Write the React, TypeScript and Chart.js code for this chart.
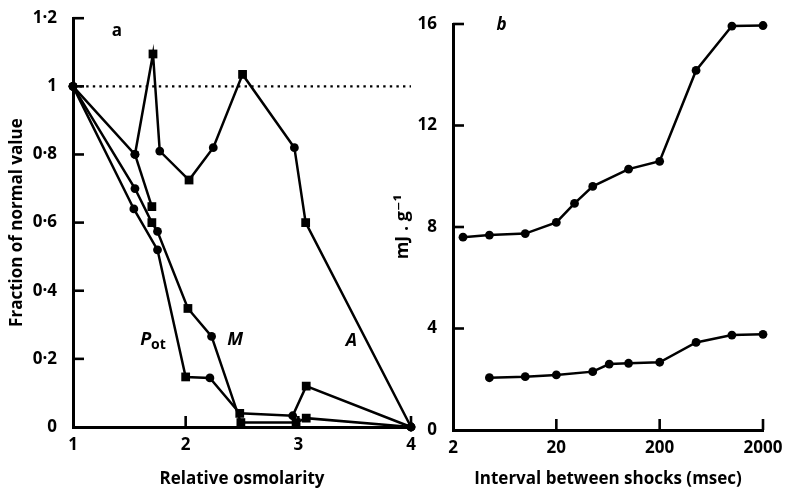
import React, { useEffect, useRef } from 'react';
import { Chart, registerables } from 'chart.js';
Chart.register(...registerables);

// ---------- Panel a : fraction of normal value vs relative osmolarity ----------
const aXTicks = [1, 2, 3, 4];
const aYTicks = [0, 0.2, 0.4, 0.6, 0.8, 1, 1.2];

const refX = [1, 4];
const refY = [1, 1];

const seriesAX = [1, 1.55, 1.71, 1.77, 2.03, 2.245, 2.505, 2.965, 3.065, 4];
const seriesAY = [1, 0.8, 1.095, 0.81, 0.725, 0.82, 1.035, 0.82, 0.6, 0];
const seriesAM = ['c', 'c', 's', 'c', 's', 'c', 's', 'c', 's', 'c'];

const seriesPotX = [1, 1.54, 1.75, 2.0, 2.215, 2.48, 2.95, 3.07, 4];
const seriesPotY = [1, 0.64, 0.52, 0.147, 0.144, 0.04, 0.033, 0.12, 0];
const seriesPotM = ['c', 'c', 'c', 's', 'c', 's', 'c', 's', 'c'];

const seriesMX = [1, 1.55, 1.7, 1.75, 2.02, 2.23, 2.49, 2.98, 3.07, 4];
const seriesMY = [1, 0.7, 0.6, 0.574, 0.348, 0.266, 0.013, 0.013, 0.026, 0];
const seriesMM = ['c', 'c', 's', 'c', 's', 'c', 's', 's', 's', 'c'];

const seriesExtraX = [1.55, 1.7];
const seriesExtraY = [0.8, 0.647];
const seriesExtraM = ['c', 's'];

// ---------- Panel b : mJ.g-1 vs interval between shocks ----------
const bXTicks = [2, 20, 200, 2000];
const bYTicks = [0, 4, 8, 12, 16];

const upperX = [2.5, 4.5, 10, 20, 30, 45, 100, 200, 450, 1000, 2000];
const upperY = [7.6, 7.68, 7.74, 8.18, 8.93, 9.6, 10.28, 10.59, 14.17, 15.92, 15.94];

const lowerX = [4.5, 10, 20, 45, 65, 100, 200, 450, 1000, 2000];
const lowerY = [2.06, 2.1, 2.17, 2.3, 2.6, 2.63, 2.67, 3.45, 3.74, 3.77];

const FONT = "'Open Sans', 'DejaVu Sans', sans-serif";

const pts = (xs: number[], ys: number[]) => xs.map((x, i) => ({ x, y: ys[i] }));

const markerDataset = (xs: number[], ys: number[], ms: string[]) => ({
  data: pts(xs, ys),
  showLine: true,
  borderColor: '#000',
  borderWidth: 2.5,
  pointStyle: ms.map((m) => (m === 's' ? 'rect' : 'circle')),
  pointRadius: ms.map((m) => (m === 's' ? 6.2 : 4.4)),
  pointBackgroundColor: '#000',
  pointBorderColor: '#000',
  pointBorderWidth: 0,
  clip: false,
});

const inwardTicks = {
  id: 'inwardTicks',
  afterDraw(chart: any, _args: any, opts: any) {
    const { ctx, scales } = chart;
    const x = scales.x;
    const y = scales.y;
    ctx.save();
    ctx.strokeStyle = '#000';
    ctx.lineWidth = 2.6;
    (opts.xTicks || []).forEach((v: number) => {
      const px = x.getPixelForValue(v);
      ctx.beginPath();
      ctx.moveTo(px, y.bottom);
      ctx.lineTo(px, y.bottom - opts.len);
      ctx.stroke();
    });
    (opts.yTicks || []).forEach((v: number) => {
      const py = y.getPixelForValue(v);
      ctx.beginPath();
      ctx.moveTo(x.left, py);
      ctx.lineTo(x.left + opts.len, py);
      ctx.stroke();
    });
    ctx.restore();
  },
};

const labels = {
  id: 'labels',
  afterDraw(chart: any, _args: any, opts: any) {
    const { ctx, scales } = chart;
    ctx.save();
    ctx.fillStyle = '#000';
    ctx.textAlign = 'center';
    ctx.textBaseline = 'middle';
    (opts.items || []).forEach((it: any) => {
      const px = scales.x.getPixelForValue(it.x);
      const py = scales.y.getPixelForValue(it.y);
      ctx.font = `${it.italic ? 'italic ' : ''}bold ${it.size}px ${FONT}`;
      if (it.sub) {
        const w = ctx.measureText(it.text).width;
        ctx.font = `bold ${it.size - 4}px ${FONT}`;
        const ws = ctx.measureText(it.sub).width;
        const start = px - (w + ws) / 2;
        ctx.textAlign = 'left';
        ctx.font = `${it.italic ? 'italic ' : ''}bold ${it.size}px ${FONT}`;
        ctx.fillText(it.text, start, py);
        ctx.font = `bold ${it.size - 4}px ${FONT}`;
        ctx.fillText(it.sub, start + w, py + 5);
        ctx.textAlign = 'center';
      } else {
        ctx.fillText(it.text, px, py);
      }
    });
    ctx.restore();
  },
};

const fmtA = (v: number) => (Math.round(v * 10) / 10).toString().replace('.', '·');

const tickFont = { family: FONT, size: 17, weight: 'bold' };
const titleFont = { family: FONT, size: 17, weight: 'bold' };

function PanelA() {
  const ref = useRef<HTMLCanvasElement>(null);
  useEffect(() => {
    const chart = new Chart(ref.current as HTMLCanvasElement, {
      type: 'scatter',
      data: {
        datasets: [
          {
            data: pts(refX, refY),
            showLine: true,
            borderColor: '#000',
            borderWidth: 2.4,
            borderDash: [2.4, 4.2],
            pointRadius: 0,
            clip: false,
          } as any,
          markerDataset(seriesAX, seriesAY, seriesAM),
          markerDataset(seriesPotX, seriesPotY, seriesPotM),
          markerDataset(seriesMX, seriesMY, seriesMM),
          markerDataset(seriesExtraX, seriesExtraY, seriesExtraM),
        ],
      },
      options: {
        animation: false,
        responsive: false,
        devicePixelRatio: 1,
        layout: { padding: { left: 0, top: 15, right: 19, bottom: 0 } },
        plugins: {
          legend: { display: false },
          tooltip: { enabled: false },
          inwardTicks: { xTicks: [2, 3, 4], yTicks: [0.2, 0.4, 0.6, 0.8, 1, 1.2], len: 11 },
          labels: {
            items: [
              { text: 'a', x: 1.39, y: 1.163, size: 17 },
              { text: 'P', sub: 'ot', x: 1.71, y: 0.255, size: 18, italic: true },
              { text: 'M', x: 2.44, y: 0.255, size: 18, italic: true },
              { text: 'A', x: 3.47, y: 0.252, size: 18, italic: true },
            ],
          },
        } as any,
        scales: {
          x: {
            type: 'linear',
            min: 1,
            max: 4,
            afterBuildTicks: (s: any) => {
              s.ticks = aXTicks.map((v) => ({ value: v }));
            },
            afterFit: (s: any) => {
              s.height = 67;
            },
            grid: { display: false },
            border: { display: true, color: '#000', width: 3 },
            ticks: {
              color: '#000',
              padding: 0,
              font: tickFont,
              callback: (v: any) => String(v),
            },
            title: {
              display: true,
              text: 'Relative osmolarity',
              color: '#000',
              font: titleFont,
              padding: { top: 0, bottom: 5 },
            },
          },
          y: {
            type: 'linear',
            min: 0,
            max: 1.2,
            afterBuildTicks: (s: any) => {
              s.ticks = aYTicks.map((v) => ({ value: v }));
            },
            afterFit: (s: any) => {
              s.width = 73;
            },
            grid: { display: false },
            border: { display: true, color: '#000', width: 3 },
            ticks: {
              color: '#000',
              padding: 8,
              font: tickFont,
              callback: (v: any) => fmtA(Number(v)),
            },
            title: {
              display: true,
              text: 'Fraction of normal value',
              color: '#000',
              font: titleFont,
              padding: { top: 7, bottom: 0 },
            },
          },
        },
      } as any,
      plugins: [inwardTicks, labels] as any,
    });
    return () => chart.destroy();
  }, []);
  return (
    <canvas
      ref={ref}
      width={430}
      height={494}
      style={{ position: 'absolute', left: 0, top: 0, width: 430, height: 494 }}
    />
  );
}

function PanelB() {
  const ref = useRef<HTMLCanvasElement>(null);
  useEffect(() => {
    const chart = new Chart(ref.current as HTMLCanvasElement, {
      type: 'scatter',
      data: {
        datasets: [
          markerDataset(upperX, upperY, upperX.map(() => 'c')),
          markerDataset(lowerX, lowerY, lowerX.map(() => 'c')),
        ],
      },
      options: {
        animation: false,
        responsive: false,
        devicePixelRatio: 1,
        layout: { padding: { left: 0, top: 24, right: 24, bottom: 0 } },
        plugins: {
          legend: { display: false },
          tooltip: { enabled: false },
          inwardTicks: { xTicks: [20, 200, 2000], yTicks: [4, 8, 12, 16], len: 11 },
          labels: {
            items: [{ text: 'b', x: 5.9, y: 15.96, size: 17, italic: true }],
          },
        } as any,
        scales: {
          x: {
            type: 'logarithmic',
            min: 2,
            max: 2000,
            afterBuildTicks: (s: any) => {
              s.ticks = bXTicks.map((v) => ({ value: v }));
            },
            afterFit: (s: any) => {
              s.height = 64;
            },
            grid: { display: false },
            border: { display: true, color: '#000', width: 3 },
            ticks: {
              color: '#000',
              padding: 0,
              font: tickFont,
              callback: (v: any) => String(v),
            },
            title: {
              display: true,
              text: 'Interval between shocks (msec)',
              color: '#000',
              font: titleFont,
              padding: { top: 0, bottom: 5 },
            },
          },
          y: {
            type: 'linear',
            min: 0,
            max: 16,
            afterBuildTicks: (s: any) => {
              s.ticks = bYTicks.map((v) => ({ value: v }));
            },
            afterFit: (s: any) => {
              s.width = 73;
            },
            grid: { display: false },
            border: { display: true, color: '#000', width: 3 },
            ticks: {
              color: '#000',
              padding: 8,
              font: tickFont,
              callback: (v: any) => String(v),
            },
            title: {
              display: true,
              text: 'mJ . g⁻¹',
              color: '#000',
              font: { family: FONT, size: 18, weight: 'bold' },
              padding: { top: 12, bottom: 0 },
            },
          },
        },
      } as any,
      plugins: [inwardTicks, labels] as any,
    });
    return () => chart.destroy();
  }, []);
  return (
    <canvas
      ref={ref}
      width={407}
      height={494}
      style={{ position: 'absolute', left: 380, top: 0, width: 407, height: 494 }}
    />
  );
}

export default function App() {
  return (
    <div style={{ position: 'absolute', left: 0, top: 0, width: 787, height: 494, background: '#fff', overflow: 'hidden' }}>
      <PanelA />
      <PanelB />
    </div>
  );
}
